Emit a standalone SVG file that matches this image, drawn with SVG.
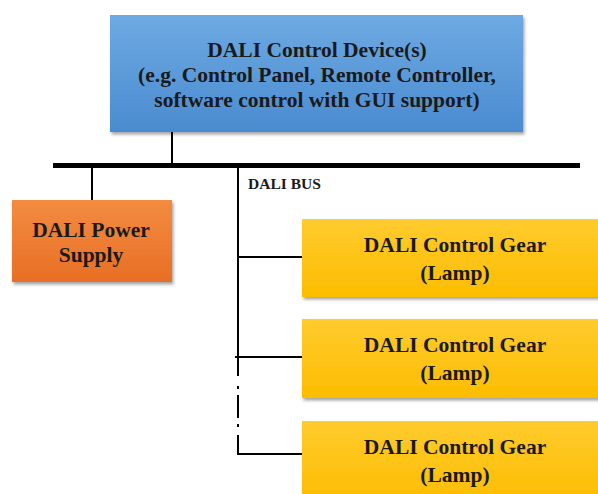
<svg xmlns="http://www.w3.org/2000/svg" width="598" height="494" viewBox="0 0 598 494">
<defs>
<linearGradient id="gBlue" x1="0" y1="0" x2="0" y2="1"><stop offset="0" stop-color="#6eaae2"/><stop offset="1" stop-color="#4a8bd0"/></linearGradient>
<linearGradient id="gOrange" x1="0" y1="0" x2="0" y2="1"><stop offset="0" stop-color="#f28c40"/><stop offset="1" stop-color="#e86f25"/></linearGradient>
<linearGradient id="gYellow" x1="0" y1="0" x2="0" y2="1"><stop offset="0" stop-color="#ffcb2e"/><stop offset="1" stop-color="#fcbd00"/></linearGradient>
<filter id="sh" x="-5%" y="-10%" width="115%" height="130%"><feDropShadow dx="1.5" dy="2.5" stdDeviation="1.5" flood-color="#000" flood-opacity="0.35"/></filter>
</defs>
<style>
text{font-family:'Liberation Serif','DejaVu Serif',serif;font-weight:700;fill:#1a1a1a}
.t{font-size:21.5px;text-anchor:middle}
.lbl{font-size:15.5px}
.c{stroke:#000;stroke-width:2;fill:none}
</style>
<rect width="598" height="494" fill="#fff"/>
<g id="connectors">
<line x1="53" y1="165.5" x2="580" y2="165.5" stroke="#000" stroke-width="5"/>
<line class="c" x1="172" y1="132" x2="172" y2="164"/>
<line class="c" x1="92" y1="166" x2="92" y2="200"/>
<line class="c" x1="238" y1="166" x2="238" y2="376"/>
<line class="c" x1="238" y1="386" x2="238" y2="389"/>
<line class="c" x1="238" y1="395" x2="238" y2="418"/>
<line class="c" x1="238" y1="424" x2="238" y2="427"/>
<line class="c" x1="238" y1="435" x2="238" y2="455"/>
<line class="c" x1="238" y1="257" x2="302" y2="257"/>
<line class="c" x1="235" y1="357" x2="302" y2="357"/>
<line class="c" x1="237" y1="454" x2="302" y2="454"/>
<text class="lbl" x="248" y="189">DALI BUS</text>
</g>
<g id="control-device">
<rect x="110" y="15" width="413" height="117" fill="url(#gBlue)" filter="url(#sh)"/>
<text class="t" x="317" y="57">DALI Control Device(s)</text>
<text class="t" x="317" y="82">(e.g. Control Panel, Remote Controller,</text>
<text class="t" x="317" y="107">software control with GUI support)</text>
</g>
<g id="power-supply">
<rect x="12" y="200" width="160" height="82" fill="url(#gOrange)" filter="url(#sh)"/>
<text class="t" x="91" y="237">DALI Power</text>
<text class="t" x="91" y="262">Supply</text>
</g>
<g id="gear-1">
<rect x="302" y="219" width="300" height="78" fill="url(#gYellow)" filter="url(#sh)"/>
<text class="t" x="455" y="252">DALI Control Gear</text>
<text class="t" x="455" y="280">(Lamp)</text>
</g>
<g id="gear-2">
<rect x="302" y="319" width="300" height="79" fill="url(#gYellow)" filter="url(#sh)"/>
<text class="t" x="455" y="352">DALI Control Gear</text>
<text class="t" x="455" y="380">(Lamp)</text>
</g>
<g id="gear-3">
<rect x="302" y="421" width="300" height="80" fill="url(#gYellow)" filter="url(#sh)"/>
<text class="t" x="455" y="454">DALI Control Gear</text>
<text class="t" x="455" y="482">(Lamp)</text>
</g>
</svg>
